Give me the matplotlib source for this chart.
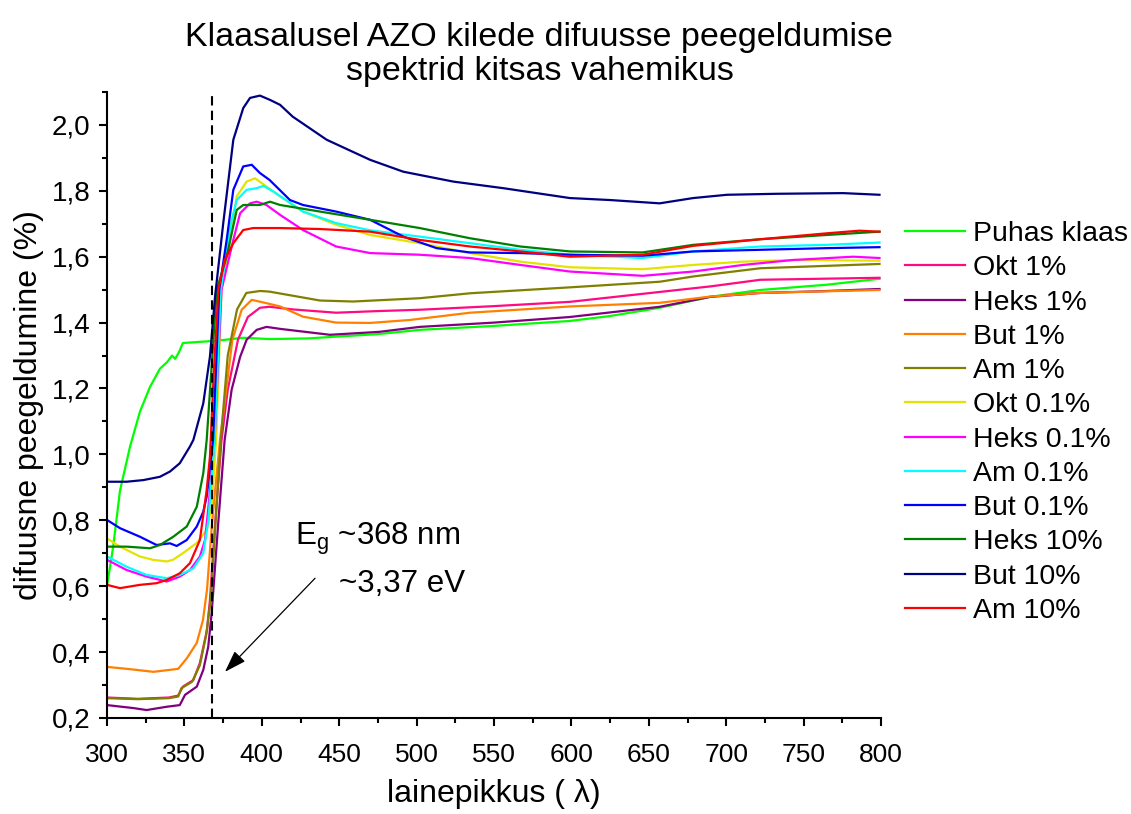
import numpy as np
import matplotlib.pyplot as plt
from matplotlib.ticker import MultipleLocator, FuncFormatter

plt.rcParams['font.family'] = ['Liberation Sans', 'DejaVu Sans']
plt.rcParams['mathtext.fontset'] = 'custom'
plt.rcParams['mathtext.rm'] = 'Liberation Sans'
plt.rcParams['mathtext.it'] = 'Liberation Sans'

# Puhas klaas
wl_puhas = [300, 304, 308.4, 314.9, 321.3, 327.8, 334.2, 338.8, 342, 344, 346.5, 349, 355, 371, 388,
            405, 430, 450, 475, 502, 550, 599, 625, 657, 689.5, 722, 765, 799]
r_puhas = [0.60, 0.72, 0.89, 1.024, 1.13, 1.205, 1.26, 1.28, 1.30, 1.29, 1.31, 1.338, 1.34, 1.345, 1.354,
           1.35, 1.352, 1.358, 1.365, 1.378, 1.39, 1.405, 1.42, 1.445, 1.478, 1.499, 1.515, 1.533]

# Okt 1%
wl_okt1 = [300, 320, 340, 346, 349, 355.8, 360, 364.6, 366.5, 370, 374, 378, 384.6, 391, 398.8, 405,
           420, 448, 475, 502, 550, 599, 657, 690, 722, 760, 799]
r_okt1 = [0.262, 0.258, 0.262, 0.268, 0.295, 0.315, 0.367, 0.467, 0.558, 0.80, 1.044, 1.196, 1.348, 1.417,
          1.445, 1.448, 1.44, 1.43, 1.435, 1.439, 1.45, 1.463, 1.493, 1.51, 1.53, 1.533, 1.536]

# Heks 1%
wl_heks1 = [300, 317, 325.6, 338.6, 347, 350.4, 358, 362.2, 365.4, 367.6, 372, 376, 380.5, 386, 390.2,
            396.7, 403, 411.8, 444, 476, 502, 550, 599, 657, 689.5, 722, 760, 799]
r_heks1 = [0.239, 0.23, 0.224, 0.234, 0.239, 0.27, 0.295, 0.346, 0.416, 0.518, 0.80, 1.044, 1.196, 1.296,
           1.348, 1.378, 1.387, 1.381, 1.363, 1.372, 1.387, 1.40, 1.417, 1.448, 1.478, 1.49, 1.495, 1.502]

# But 1%
wl_but1 = [300, 315, 330, 346, 351.7, 358, 362, 364.6, 368, 373, 377, 381, 387, 393.5, 403, 411.8,
           426.6, 448, 470, 495.7, 534.5, 599, 657, 689.5, 722, 799]
r_but1 = [0.355, 0.348, 0.34, 0.349, 0.382, 0.428, 0.497, 0.589, 0.80, 1.044, 1.196, 1.348, 1.439, 1.469,
          1.459, 1.449, 1.418, 1.40, 1.399, 1.408, 1.43, 1.449, 1.46, 1.479, 1.49, 1.499]

# Am 1%
wl_am1 = [300, 320, 340, 346, 348, 355, 360, 364, 367, 373.5, 378, 384, 390, 399, 405, 437.6, 459,
          502, 534.5, 599, 657, 678.6, 722, 799]
r_am1 = [0.26, 0.257, 0.26, 0.265, 0.29, 0.31, 0.36, 0.45, 0.56, 1.044, 1.30, 1.44, 1.49, 1.496, 1.494,
         1.467, 1.464, 1.474, 1.489, 1.507, 1.524, 1.54, 1.565, 1.578]

# Okt 0.1%
wl_okt01 = [300, 308.4, 321.3, 329.7, 338.6, 342.6, 349, 358, 364.4, 367.6, 370.5, 374, 379.5, 383.8,
            390.2, 395.6, 403, 411.8, 426.6, 448, 470, 502, 534.5, 567, 599, 646, 678.6, 710.8, 743, 799]
r_okt01 = [0.745, 0.72, 0.69, 0.68, 0.675, 0.68, 0.70, 0.731, 0.771, 0.841, 1.044, 1.5, 1.651, 1.783,
           1.828, 1.838, 1.813, 1.783, 1.737, 1.697, 1.666, 1.641, 1.611, 1.585, 1.568, 1.562, 1.575,
           1.585, 1.59, 1.588]

# Heks 0.1%
wl_heks01 = [300, 312.7, 325.6, 338.6, 347, 353.6, 360, 363.3, 365.5, 369.5, 374, 381.6, 386, 392.4,
             396.7, 403, 411.8, 426.6, 448, 470, 502, 534.5, 567, 599, 646, 678.6, 710.8, 743, 782, 799]
r_heks01 = [0.68, 0.649, 0.629, 0.614, 0.629, 0.649, 0.69, 0.74, 0.84, 1.044, 1.5, 1.651, 1.732, 1.762,
            1.767, 1.757, 1.727, 1.681, 1.631, 1.611, 1.606, 1.596, 1.575, 1.555, 1.542, 1.555, 1.575,
            1.59, 1.60, 1.596]

# Am 0.1%
wl_am01 = [300, 312.7, 325.6, 338.6, 347, 355.8, 362.2, 365.5, 369.5, 373.5, 380, 383.8, 390.2, 396.7,
           401, 407.4, 426.6, 448, 470, 502, 534.5, 567, 599, 646, 678.6, 722, 765, 799]
r_am01 = [0.69, 0.659, 0.634, 0.624, 0.634, 0.654, 0.70, 0.80, 1.044, 1.5, 1.70, 1.772, 1.803, 1.808,
          1.815, 1.798, 1.737, 1.702, 1.68, 1.661, 1.641, 1.621, 1.606, 1.596, 1.616, 1.631, 1.636, 1.643]

# But 0.1%
wl_but01 = [300, 308.4, 321.3, 332, 340.7, 345, 351.5, 358, 362.2, 364.4, 368.5, 372.5, 377.3, 381.6,
            388, 393.5, 398.8, 405, 418.2, 426.6, 448, 470, 491.4, 512.9, 534.5, 567, 599, 646, 678.6,
            722, 765, 799]
r_but01 = [0.801, 0.776, 0.75, 0.725, 0.73, 0.722, 0.74, 0.781, 0.826, 0.872, 1.044, 1.5, 1.651, 1.803,
           1.874, 1.879, 1.854, 1.833, 1.772, 1.757, 1.737, 1.712, 1.661, 1.626, 1.613, 1.611, 1.606,
           1.603, 1.616, 1.621, 1.626, 1.629]

# Heks 10%
wl_heks10 = [300, 312.7, 327.8, 334.2, 342.8, 351.5, 358, 362.2, 364.4, 370.9, 377.3, 383.8, 388, 398.8,
             405.3, 411.8, 437.6, 470, 502, 534.5, 567, 599, 646, 678.6, 722, 765, 799]
r_heks10 = [0.72, 0.72, 0.715, 0.725, 0.75, 0.781, 0.841, 0.943, 1.044, 1.5, 1.60, 1.742, 1.757, 1.757,
            1.767, 1.757, 1.737, 1.712, 1.687, 1.656, 1.631, 1.616, 1.613, 1.636, 1.653, 1.666, 1.676]

# But 10%
wl_but10 = [300, 312.7, 323.5, 334.2, 340.7, 347, 353.6, 355.8, 362.2, 366.5, 369.8, 375.1, 381.6, 388,
            392.4, 398.8, 405.3, 411.8, 420, 441.9, 470, 491.4, 523.7, 556, 599, 625, 657, 678.6, 700.5,
            732.8, 775.5, 799]
r_but10 = [0.917, 0.917, 0.922, 0.932, 0.948, 0.973, 1.024, 1.044, 1.155, 1.297, 1.479, 1.702, 1.955,
           2.051, 2.082, 2.089, 2.076, 2.061, 2.025, 1.955, 1.894, 1.858, 1.828, 1.808, 1.778, 1.772,
           1.762, 1.778, 1.788, 1.791, 1.793, 1.788]

# Am 10%
wl_am10 = [300, 308.4, 321.3, 332, 338.6, 347, 353.6, 360, 364.4, 366.5, 369, 372, 376, 381.6, 388,
           394.5, 411.8, 437.6, 470, 502, 534.5, 567, 599, 646, 678.6, 722, 765, 786, 799]
r_am10 = [0.604, 0.594, 0.604, 0.609, 0.619, 0.639, 0.67, 0.74, 0.892, 0.993, 1.25, 1.5, 1.59, 1.641,
          1.681, 1.687, 1.687, 1.684, 1.676, 1.651, 1.631, 1.616, 1.60, 1.606, 1.633, 1.653, 1.671,
          1.679, 1.676]

series = [
    ('Puhas klaas', wl_puhas, r_puhas, '#00ff00'),
    ('Okt 1%', wl_okt1, r_okt1, '#ff0a80'),
    ('Heks 1%', wl_heks1, r_heks1, '#800080'),
    ('But 1%', wl_but1, r_but1, '#ff8000'),
    ('Am 1%', wl_am1, r_am1, '#808000'),
    ('Okt 0.1%', wl_okt01, r_okt01, '#e3e300'),
    ('Heks 0.1%', wl_heks01, r_heks01, '#ff00ff'),
    ('Am 0.1%', wl_am01, r_am01, '#00ffff'),
    ('But 0.1%', wl_but01, r_but01, '#0000ff'),
    ('Heks 10%', wl_heks10, r_heks10, '#008000'),
    ('But 10%', wl_but10, r_but10, '#000080'),
    ('Am 10%', wl_am10, r_am10, '#ff0000'),
]

fig = plt.figure(figsize=(11.31, 8.14), dpi=100)
ax = fig.add_axes([0.0946, 0.118, 0.6844, 0.769])

for label, wl, r, col in series:
    ax.plot(wl, r, color=col, lw=1.6, label=label)

ax.axvline(368, color='k', lw=1.5, ls=(0, (4.5, 2.5)))

ax.set_xlim(300, 800)
ax.set_ylim(0.2, 2.1)
ax.xaxis.set_major_locator(MultipleLocator(50))
ax.xaxis.set_minor_locator(MultipleLocator(25))
ax.yaxis.set_major_locator(MultipleLocator(0.2))
ax.yaxis.set_minor_locator(MultipleLocator(0.1))
ax.yaxis.set_major_formatter(FuncFormatter(lambda v, p: f'{v:.1f}'.replace('.', ',')))

for side in ['top', 'right']:
    ax.spines[side].set_visible(False)
for side in ['left', 'bottom']:
    ax.spines[side].set_linewidth(1.5)

ax.tick_params(which='major', direction='out', length=6, width=1.5, labelsize=20)
ax.tick_params(which='minor', direction='out', length=3.5, width=1.5)
ax.tick_params(axis='x', which='major', pad=12, labelsize=19)
ax.tick_params(axis='y', which='major', pad=6)

ax.set_xlabel('lainepikkus ( λ)', fontsize=23, labelpad=9)
ax.set_ylabel('difuusne peegeldumine (%)', fontsize=23)
ax.yaxis.set_label_coords(-0.082, 0.5)

fig.text(0.477, 0.973, 'Klaasalusel AZO kilede difuusse peegeldumise\nspektrid kitsas vahemikus',
         ha='center', va='top', fontsize=24.5, linespacing=1.13)

ax.annotate('', xy=(376.2, 0.34), xytext=(434.4, 0.624),
            arrowprops=dict(arrowstyle='-|>,head_length=0.9,head_width=0.3', color='k', lw=0.9,
                            mutation_scale=15, shrinkA=0, shrinkB=0))
ax.text(421.5, 0.725, r'E$_\mathregular{g}$ ~368 nm', fontsize=22.5, ha='left', va='baseline')
ax.text(450, 0.583, '~3,37 eV', fontsize=22.5, ha='left', va='baseline')

fig.legend(loc='upper left', bbox_to_anchor=(905 / 1131, 1 - 221 / 814), frameon=False,
           fontsize=20.5, handlelength=2.1, handletextpad=0.3, labelspacing=0.29,
           borderpad=0, borderaxespad=0)

fig.savefig('out.png', dpi=100)
